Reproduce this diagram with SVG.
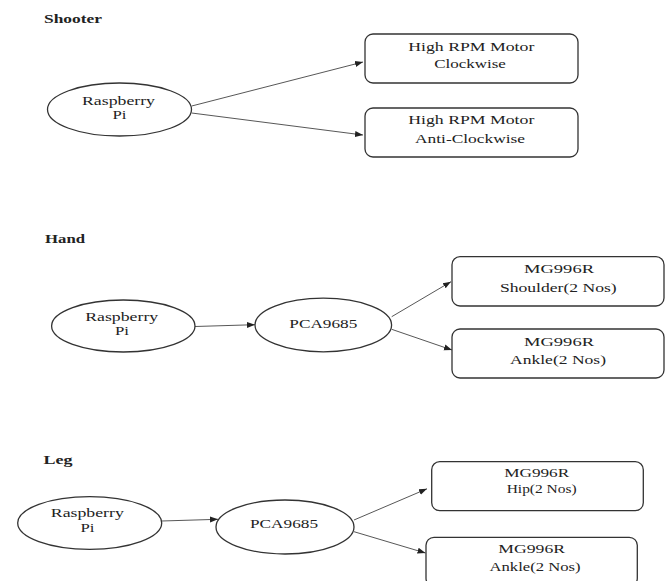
<svg xmlns="http://www.w3.org/2000/svg" width="669" height="581" viewBox="0 0 669 581">
<defs>
<marker id="ah" markerUnits="userSpaceOnUse" markerWidth="8" markerHeight="8" viewBox="0 0 8 8" refX="8" refY="4" orient="auto">
<path d="M0,1 L8,4 L0,7 Z" fill="#222"/>
</marker>
<style>
.n{fill:#fff;stroke:#333;stroke-width:1.3}
.t{font-family:"Liberation Serif","DejaVu Serif","Times New Roman",serif;font-size:13.2px;fill:#222;text-anchor:middle}
.h{font-family:"Liberation Serif","DejaVu Serif","Times New Roman",serif;font-size:12.5px;font-weight:bold;fill:#222}
.c{stroke:#444;stroke-width:0.9;fill:none;marker-end:url(#ah)}
</style>
</defs>
<rect width="669" height="581" fill="#fff"/>
<g id="titles">
<text class="h" x="44" y="22.5" textLength="58" lengthAdjust="spacingAndGlyphs">Shooter</text>
<text class="h" x="45" y="243" textLength="40" lengthAdjust="spacingAndGlyphs">Hand</text>
<text class="h" x="43.5" y="464" textLength="29" lengthAdjust="spacingAndGlyphs">Leg</text>
</g>
<g id="connectors">
<line class="c" x1="191.7" y1="106" x2="363" y2="62"/>
<line class="c" x1="191.7" y1="113" x2="363" y2="135"/>
<line class="c" x1="195" y1="326.5" x2="255" y2="324.7"/>
<line class="c" x1="391.7" y1="316.7" x2="451" y2="281.7"/>
<line class="c" x1="391.7" y1="329.3" x2="452" y2="350"/>
<line class="c" x1="161.7" y1="521" x2="218" y2="519.3"/>
<line class="c" x1="354" y1="520" x2="427" y2="488.8"/>
<line class="c" x1="354" y1="531.7" x2="425.5" y2="553"/>
</g>
<g id="shooter-pi">
<ellipse class="n" cx="119.5" cy="109.5" rx="72" ry="26.5"/>
<text class="t" x="118.5" y="105" textLength="73" lengthAdjust="spacingAndGlyphs">Raspberry</text>
<text class="t" x="119.5" y="118.5" textLength="14" lengthAdjust="spacingAndGlyphs">Pi</text>
</g>
<g id="shooter-cw">
<rect class="n" x="365" y="34" width="213" height="49" rx="8"/>
<text class="t" x="471.3" y="50.7" textLength="126" lengthAdjust="spacingAndGlyphs">High RPM Motor</text>
<text class="t" x="470" y="68" textLength="71.7" lengthAdjust="spacingAndGlyphs">Clockwise</text>
</g>
<g id="shooter-acw">
<rect class="n" x="365" y="108" width="213" height="49" rx="8"/>
<text class="t" x="471.3" y="124" textLength="126" lengthAdjust="spacingAndGlyphs">High RPM Motor</text>
<text class="t" x="470" y="142.7" textLength="110" lengthAdjust="spacingAndGlyphs">Anti-Clockwise</text>
</g>
<g id="hand-pi">
<ellipse class="n" cx="123.3" cy="326" rx="71.7" ry="26"/>
<text class="t" x="121.7" y="321" textLength="73" lengthAdjust="spacingAndGlyphs">Raspberry</text>
<text class="t" x="122" y="335" textLength="14" lengthAdjust="spacingAndGlyphs">Pi</text>
</g>
<g id="hand-pca">
<ellipse class="n" cx="323.3" cy="325" rx="68.3" ry="26.8"/>
<text class="t" x="323.3" y="327.5" textLength="68" lengthAdjust="spacingAndGlyphs">PCA9685</text>
</g>
<g id="hand-shoulder">
<rect class="n" x="452" y="256.7" width="212" height="49.3" rx="8"/>
<text class="t" x="559" y="273.3" textLength="70" lengthAdjust="spacingAndGlyphs">MG996R</text>
<text class="t" x="558.3" y="291.7" textLength="116.7" lengthAdjust="spacingAndGlyphs">Shoulder(2 Nos)</text>
</g>
<g id="hand-ankle">
<rect class="n" x="452" y="329" width="212" height="49" rx="8"/>
<text class="t" x="559" y="346" textLength="70" lengthAdjust="spacingAndGlyphs">MG996R</text>
<text class="t" x="558" y="364" textLength="96" lengthAdjust="spacingAndGlyphs">Ankle(2 Nos)</text>
</g>
<g id="leg-pi">
<ellipse class="n" cx="89.7" cy="523" rx="72" ry="26.3"/>
<text class="t" x="87.3" y="516.7" textLength="73" lengthAdjust="spacingAndGlyphs">Raspberry</text>
<text class="t" x="87.5" y="531.7" textLength="14" lengthAdjust="spacingAndGlyphs">Pi</text>
</g>
<g id="leg-pca">
<ellipse class="n" cx="285" cy="527" rx="69" ry="27"/>
<text class="t" x="284" y="528.3" textLength="68" lengthAdjust="spacingAndGlyphs">PCA9685</text>
</g>
<g id="leg-hip">
<rect class="n" x="431.7" y="461.7" width="211.6" height="49" rx="8"/>
<text class="t" x="536.7" y="477.3" textLength="65" lengthAdjust="spacingAndGlyphs">MG996R</text>
<text class="t" x="541.7" y="493.3" textLength="70" lengthAdjust="spacingAndGlyphs">Hip(2 Nos)</text>
</g>
<g id="leg-ankle">
<rect class="n" x="426" y="537.3" width="211.3" height="49" rx="8"/>
<text class="t" x="531.7" y="553.3" textLength="66.7" lengthAdjust="spacingAndGlyphs">MG996R</text>
<text class="t" x="535" y="571" textLength="91" lengthAdjust="spacingAndGlyphs">Ankle(2 Nos)</text>
</g>
</svg>
